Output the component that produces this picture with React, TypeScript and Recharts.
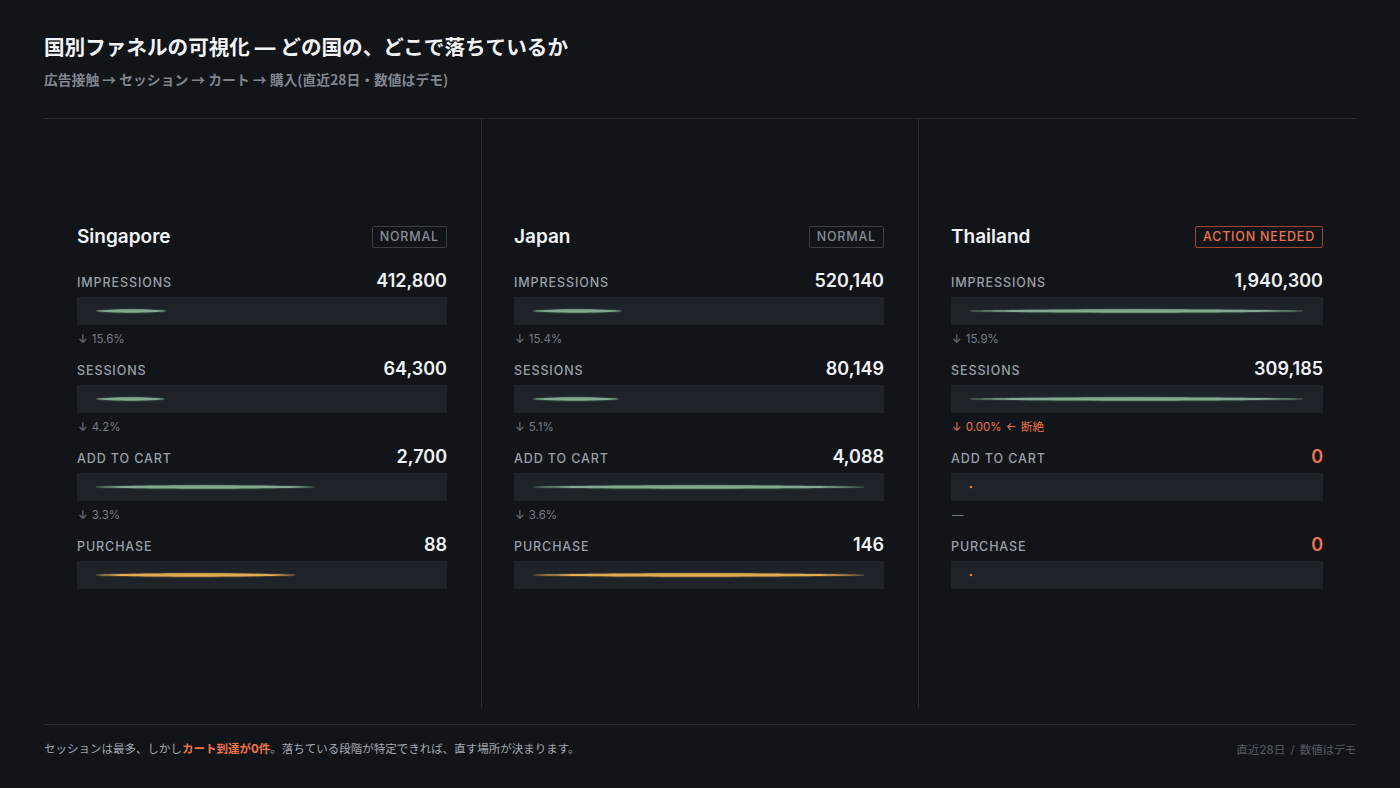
import { Bar, BarChart, XAxis, YAxis } from "recharts";

const countries = ["Singapore", "Japan", "Thailand"];
const statuses = ["NORMAL", "NORMAL", "ACTION NEEDED"];
const stages = ["IMPRESSIONS", "SESSIONS", "ADD TO CART", "PURCHASE"];
const impressions = [412800, 520140, 1940300];
const sessions = [64300, 80149, 309185];
const addToCart = [2700, 4088, 0];
const purchases = [88, 146, 0];

const stageValues = [impressions, sessions, addToCart, purchases];

const BG = "#111419";
const TRACK = "#1e2229";
const LINE = "#2a2e35";
const GREEN = "#80ab90";
const GOLD = "#e3aa52";
const ORANGE = "#ee7449";
const FONT = "Inter, 'Noto Sans CJK JP', 'Noto Sans', sans-serif";
const CJK = "'Noto Sans CJK JP', Inter, sans-serif";

// thin tapered line instead of a rectangle
const LensBar = (props: any) => {
  const { x, y, width, height, fill, payload } = props;
  const cy = y + height / 2;
  if (!payload || payload.v === 0) {
    return <circle cx={x + 1} cy={cy} r={1.3} fill={ORANGE} />;
  }
  const w = width;
  const h = 2.3;
  const d = `M${x},${cy} C${x + w * 0.2},${cy - h} ${x + w * 0.8},${cy - h} ${x + w},${cy} C${x + w * 0.8},${cy + h} ${x + w * 0.2},${cy + h} ${x},${cy} Z`;
  return (
    <g>
      <path d={d} fill="none" stroke={fill} strokeOpacity={0.18} strokeWidth={2} />
      <path d={d} fill={fill} />
    </g>
  );
};

const StageBar = ({ name, value, max, color, width }: { name: string; value: number; max: number; color: string; width: number }) => (
  <BarChart
    width={width}
    height={28}
    data={[{ name, v: value }]}
    layout="vertical"
    margin={{ top: 0, right: 20, bottom: 0, left: 19 }}
    style={{ background: TRACK }}
  >
    <XAxis type="number" hide domain={[0, max]} />
    <YAxis type="category" dataKey="name" hide />
    <Bar dataKey="v" fill={color} barSize={8} minPointSize={1} shape={LensBar} isAnimationActive={false} />
  </BarChart>
);

const fmt = (n: number) => n.toLocaleString("en-US");

const rateText = (cur: number, next: number) => {
  if (cur === 0) return { text: "—", alert: false };
  if (next === 0) return { text: "↓ 0.00% ← 断絶", alert: true };
  return { text: `↓ ${((next / cur) * 100).toFixed(1)}%`, alert: false };
};

const Panel = ({ idx }: { idx: number }) => {
  const left = 44 + idx * 437 + 33;
  const width = idx === 2 ? 372 : 370;
  const alert = statuses[idx] !== "NORMAL";
  return (
    <div style={{ position: "absolute", left, top: 0, width }}>
      <div
        style={{
          position: "absolute",
          top: 224,
          left: 0,
          width,
          height: 24,
          display: "flex",
          justifyContent: "space-between",
          alignItems: "center",
        }}
      >
        <span style={{ fontSize: 19, fontWeight: 600, color: "#f2f3f5" }}>{countries[idx]}</span>
        <span
          style={{
            fontSize: 12.5,
            fontWeight: 500,
            letterSpacing: 0.8,
            color: alert ? ORANGE : "#878d96",
            border: `1px solid ${alert ? "#9c4630" : "#3a3f47"}`,
            borderRadius: 2,
            padding: "3px 7px",
            lineHeight: "14px",
            marginTop: 2,
          }}
        >
          {statuses[idx]}
        </span>
      </div>
      {stages.map((stage, i) => {
        const value = stageValues[i][idx];
        const max = Math.max(...stageValues[i]);
        const color = i === 3 ? GOLD : GREEN;
        const rate = i < 3 ? rateText(value, stageValues[i + 1][idx]) : null;
        const top = 88 * i;
        return (
          <div key={stage}>
            <div
              style={{
                position: "absolute",
                top: 270 + top,
                left: 0,
                width,
                height: 24,
                display: "flex",
                justifyContent: "space-between",
                alignItems: "baseline",
              }}
            >
              <span style={{ fontSize: 12.5, fontWeight: 500, letterSpacing: 0.9, color: "#9aa0a8" }}>{stage}</span>
              <span
                style={{
                  fontSize: 18,
                  fontWeight: 600,
                  color: value === 0 ? ORANGE : "#f2f3f5",
                }}
              >
                {fmt(value)}
              </span>
            </div>
            <div style={{ position: "absolute", top: 297 + top, left: 0 }}>
              <StageBar name={stage} value={value} max={max} color={color} width={width} />
            </div>
            {rate && (
              <div
                style={{
                  position: "absolute",
                  top: 332 + top,
                  left: 1,
                  fontSize: 11.5,
                  lineHeight: "14px",
                  wordSpacing: 1,
                  color: rate.alert ? ORANGE : "#767c85",
                }}
              >
                {rate.text}
              </div>
            )}
          </div>
        );
      })}
    </div>
  );
};

export default function App() {
  return (
    <div
      style={{
        position: "absolute",
        left: 0,
        top: 0,
        width: 1400,
        height: 788,
        background: BG,
        fontFamily: FONT,
        overflow: "hidden",
      }}
    >
      <div
        style={{
          position: "absolute",
          left: 44,
          top: 34,
          fontSize: 20.6,
          fontWeight: 700,
          color: "#f2f3f5",
          lineHeight: "28px",
        }}
      >
        国別ファネルの可視化 — どの国の、どこで落ちているか
      </div>
      <div
        style={{
          position: "absolute",
          left: 44,
          top: 70,
          fontSize: 13.8,
          fontWeight: 700,
          color: "#80868f",
          lineHeight: "19px",
          fontFamily: CJK,
        }}
      >
        広告接触 → セッション → カート → 購入(直近28日・数値はデモ)
      </div>
      <div style={{ position: "absolute", left: 44, top: 118, width: 1312, height: 1, background: LINE }} />
      <div style={{ position: "absolute", left: 481, top: 119, width: 1, height: 589, background: LINE }} />
      <div style={{ position: "absolute", left: 918, top: 119, width: 1, height: 589, background: LINE }} />
      {countries.map((c, i) => (
        <Panel key={c} idx={i} />
      ))}
      <div style={{ position: "absolute", left: 44, top: 724, width: 1312, height: 1, background: LINE }} />
      <div
        style={{
          position: "absolute",
          left: 44,
          top: 741,
          fontSize: 11.5,
          color: "#a3a8b0",
          lineHeight: "16px",
        }}
      >
        セッションは最多、しかし<span style={{ color: ORANGE, fontWeight: 700 }}>カート到達が0件</span>。落ちている段階が特定できれば、直す場所が決まります。
      </div>
      <div
        style={{
          position: "absolute",
          right: 44,
          top: 742,
          fontSize: 11.5,
          color: "#555b64",
          lineHeight: "16px",
          wordSpacing: 2,
          fontFeatureSettings: '"palt"',
        }}
      >
        直近28日 / 数値はデモ
      </div>
    </div>
  );
}
